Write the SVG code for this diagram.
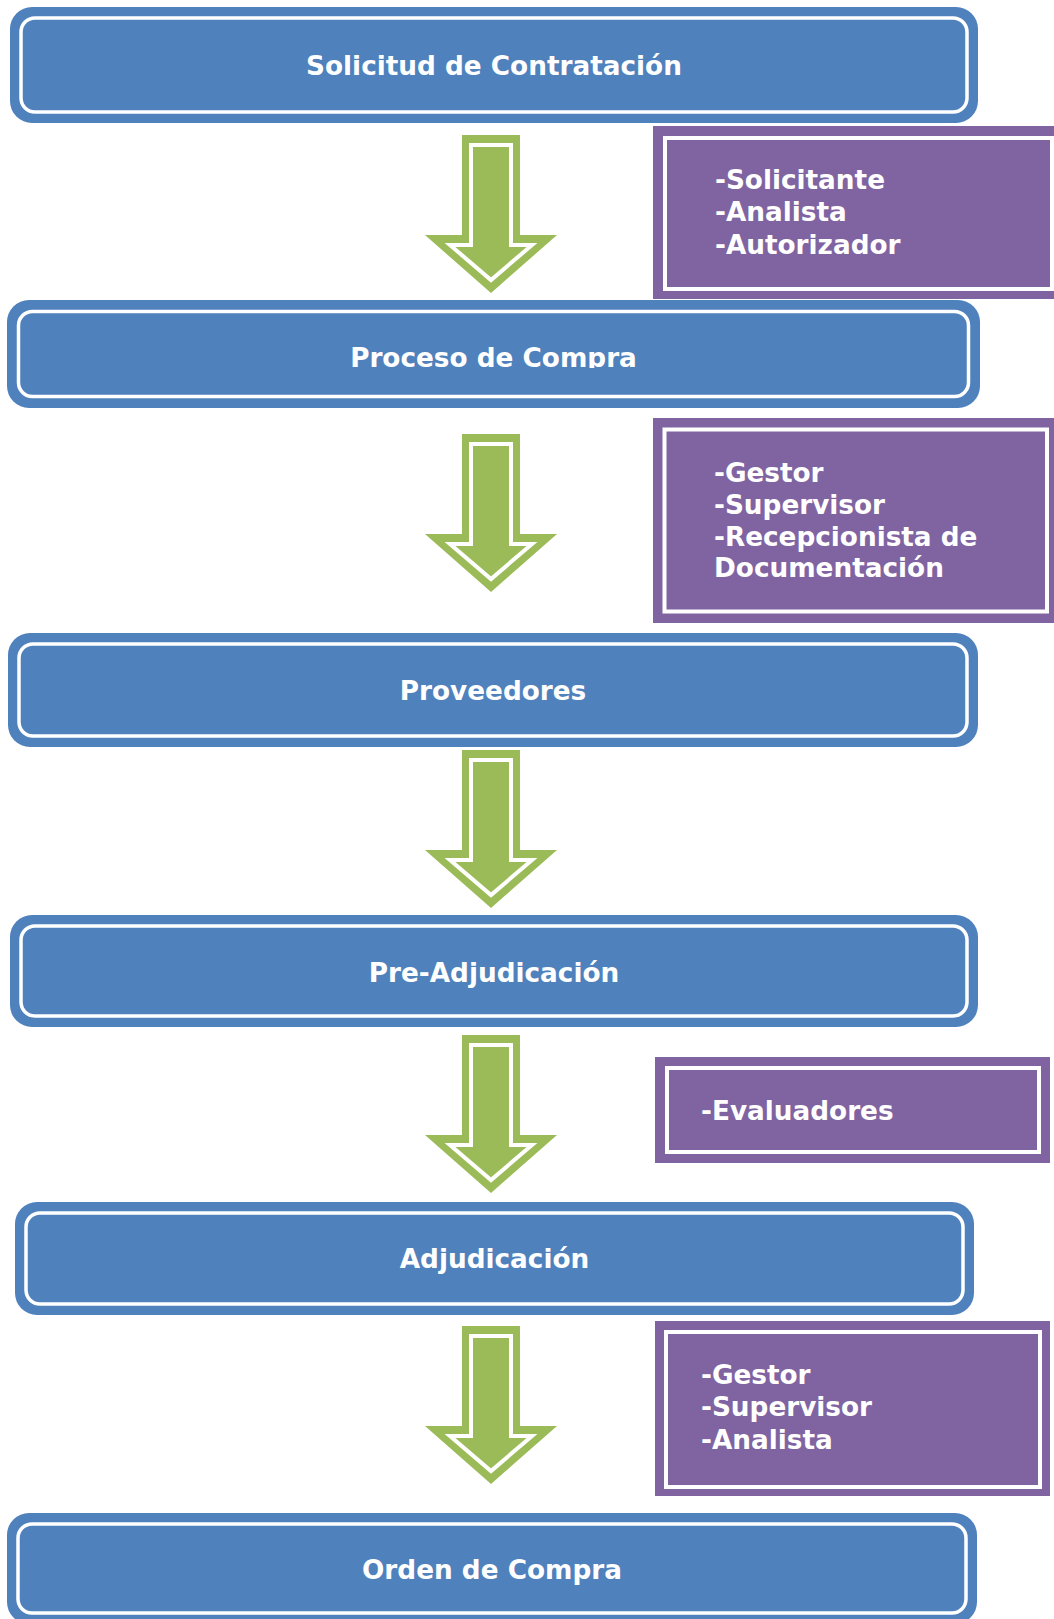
<svg xmlns="http://www.w3.org/2000/svg" xmlns:xlink="http://www.w3.org/1999/xlink" width="1054" height="1619" viewBox="0 0 1054 1619">
<style>
.bo{fill:#4F81BD}
.bi{fill:none;stroke:#FFFFFF;stroke-width:3.5}
.po{fill:#8064A2}
.pi{fill:none;stroke:#FFFFFF;stroke-width:4}
.t{font-family:"DejaVu Sans","Verdana",sans-serif;font-weight:bold;font-size:26.3px;fill:#FFFFFF}
.c{text-anchor:middle}
.ao{fill:#9BBB59}
.ai{fill:none;stroke:#FFFFFF;stroke-width:4;stroke-linejoin:miter}
</style>
<defs>
<g id="arrow">
<polygon class="ao" points="462,0 520,0 520,100 557,100 491,158 425,100 462,100"/>
<polygon class="ai" points="471,10 511,10 511,110 532,110 491,145 450,110 471,110"/>
</g>
<clipPath id="clip2"><rect x="0" y="300" width="1054" height="68"/></clipPath>
</defs>
<rect width="1054" height="1619" fill="#FFFFFF"/>

<g id="connectors">
<use xlink:href="#arrow" href="#arrow" y="135"/>
<use xlink:href="#arrow" href="#arrow" y="434"/>
<use xlink:href="#arrow" href="#arrow" y="750"/>
<use xlink:href="#arrow" href="#arrow" y="1035"/>
<use xlink:href="#arrow" href="#arrow" y="1326"/>
</g>

<g id="n1">
<rect class="bo" x="10" y="7" width="968" height="116" rx="22"/>
<rect class="bi" x="21" y="18" width="946" height="94" rx="14"/>
<text class="t c" x="494" y="75">Solicitud de Contratación</text>
</g>

<g id="p1">
<rect class="po" x="653" y="126" width="410" height="173"/>
<rect class="pi" x="665" y="138" width="387" height="151"/>
<text class="t" x="715" y="189">-Solicitante</text>
<text class="t" x="715" y="221">-Analista</text>
<text class="t" x="715" y="254">-Autorizador</text>
</g>

<g id="n2">
<rect class="bo" x="7" y="300" width="973" height="108" rx="22"/>
<rect class="bi" x="18.5" y="311.5" width="950" height="85" rx="14"/>
<text class="t c" x="493.5" y="367" clip-path="url(#clip2)">Proceso de Compra</text>
</g>

<g id="p2">
<rect class="po" x="653" y="418" width="401" height="205"/>
<rect class="pi" x="664.5" y="429.5" width="382.5" height="182"/>
<text class="t" x="714" y="482">-Gestor</text>
<text class="t" x="714" y="514">-Supervisor</text>
<text class="t" x="714" y="546">-Recepcionista de</text>
<text class="t" x="714" y="577">Documentación</text>
</g>

<g id="n3">
<rect class="bo" x="8" y="633" width="970" height="114" rx="22"/>
<rect class="bi" x="19" y="644" width="948" height="92" rx="14"/>
<text class="t c" x="493" y="700">Proveedores</text>
</g>

<g id="n4">
<rect class="bo" x="10" y="915" width="968" height="112" rx="22"/>
<rect class="bi" x="21" y="926" width="946" height="90" rx="14"/>
<text class="t c" x="494" y="982">Pre-Adjudicación</text>
</g>

<g id="p3">
<rect class="po" x="655" y="1057" width="395" height="106"/>
<rect class="pi" x="667" y="1068" width="372" height="84"/>
<text class="t" x="701" y="1120">-Evaluadores</text>
</g>

<g id="n5">
<rect class="bo" x="15" y="1202" width="959" height="113" rx="22"/>
<rect class="bi" x="26" y="1213" width="937" height="91" rx="14"/>
<text class="t c" x="494.5" y="1268">Adjudicación</text>
</g>

<g id="p4">
<rect class="po" x="655" y="1321" width="395" height="175"/>
<rect class="pi" x="666" y="1332" width="374" height="155"/>
<text class="t" x="701" y="1384">-Gestor</text>
<text class="t" x="701" y="1416">-Supervisor</text>
<text class="t" x="701" y="1449">-Analista</text>
</g>

<g id="n6">
<rect class="bo" x="7" y="1513" width="970" height="111" rx="22"/>
<rect class="bi" x="18" y="1524" width="948" height="89" rx="14"/>
<text class="t c" x="492" y="1579">Orden de Compra</text>
</g>
</svg>
